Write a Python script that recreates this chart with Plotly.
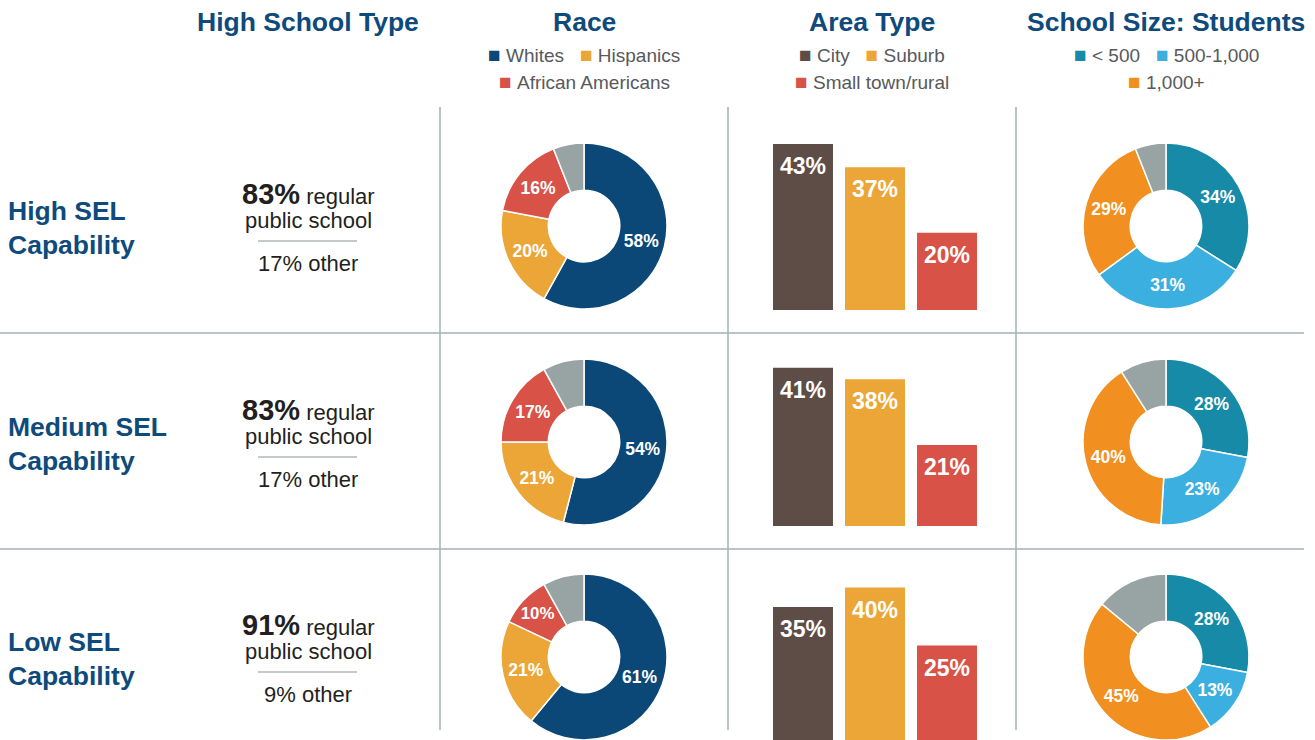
import plotly.graph_objects as go

W, H = 1315, 740

# ---- data ----
row_labels = ["High SEL<br>Capability", "Medium SEL<br>Capability", "Low SEL<br>Capability"]
regular_public = [83, 83, 91]
other_type = [17, 17, 9]

race_labels = ["Whites", "Hispanics", "African Americans", "Other"]
race_whites = [58, 54, 61]
race_hispanics = [20, 21, 21]
race_african_am = [16, 17, 10]
race_other = [6, 8, 8]

area_labels = ["City", "Suburb", "Small town/rural"]
area_city = [43, 41, 35]
area_suburb = [37, 38, 40]
area_rural = [20, 21, 25]

size_labels = ["< 500", "500-1,000", "1,000+", "Other"]
size_small = [34, 28, 28]
size_medium = [31, 23, 13]
size_large = [29, 40, 45]
size_other = [6, 9, 14]

# ---- styling ----
BLUE = "#0e4a7b"
DARK = "#231f20"
GREY_TXT = "#58595b"
RULE = "#a5b0b0"
race_colors = ["#0b4877", "#eca637", "#d85247", "#98a3a3"]
area_colors = ["#5d4d46", "#eca637", "#d85247"]
size_colors = ["#168aa7", "#3bb0e0", "#f19020", "#98a3a3"]
FONT = "Liberation Sans"

row_cy = [226, 442, 657]       # pixel centres of each row
bar_bottom = [310, 526, 742]   # pixel baseline of bars
px_per_pct = 3.86
radius = 83


def px_x(p):
    return p / W


def px_y(p):
    return 1 - p / H


fig = go.Figure()
annotations = []

for i in range(3):
    cy = row_cy[i]
    # race donut
    fig.add_trace(go.Pie(
        values=[race_whites[i], race_hispanics[i], race_african_am[i], race_other[i]],
        labels=race_labels,
        marker=dict(colors=race_colors, line=dict(color="white", width=1.5)),
        hole=0.43, sort=False, direction="clockwise", rotation=0,
        texttemplate=["%{value}%"] * 3 + [""],
        textposition="inside", insidetextorientation="horizontal",
        textfont=dict(family=FONT, size=17.5, color="white", weight="bold"),
        domain=dict(x=[px_x(584 - radius), px_x(584 + radius)],
                    y=[max(0, px_y(cy + radius)), px_y(cy - radius)]),
        showlegend=False, hoverinfo="label+value",
    ))
    # school size donut
    fig.add_trace(go.Pie(
        values=[size_small[i], size_medium[i], size_large[i], size_other[i]],
        labels=size_labels,
        marker=dict(colors=size_colors, line=dict(color="white", width=1.5)),
        hole=0.43, sort=False, direction="clockwise", rotation=0,
        texttemplate=["%{value}%"] * 3 + [""],
        textposition="inside", insidetextorientation="horizontal",
        textfont=dict(family=FONT, size=17.5, color="white", weight="bold"),
        domain=dict(x=[px_x(1166 - radius), px_x(1166 + radius)],
                    y=[max(0, px_y(cy + radius)), px_y(cy - radius)]),
        showlegend=False, hoverinfo="label+value",
    ))
    # area type bars
    n = "" if i == 0 else str(i + 1)
    vals = [area_city[i], area_suburb[i], area_rural[i]]
    fig.add_trace(go.Bar(
        x=area_labels, y=vals,
        marker=dict(color=area_colors, line=dict(width=0)),
        textposition="none",
        xaxis="x" + n, yaxis="y" + n, showlegend=False,
    ))
    for lab, v in zip(area_labels, vals):
        annotations.append(dict(
            x=lab, y=v, xref="x" + n, yref="y" + n, text="%d%%" % v,
            showarrow=False, yanchor="middle", yshift=-22,
            font=dict(family=FONT, size=23, color="white", weight="bold"),
        ))
    bottom = bar_bottom[i]
    ymin = max(0, (bottom - H) / px_per_pct)
    top = bottom - 50 * px_per_pct
    fig.layout["xaxis" + n] = dict(domain=[px_x(767), px_x(983)], range=[-0.5, 2.5],
                                   visible=False, anchor="y" + n, fixedrange=True)
    fig.layout["yaxis" + n] = dict(domain=[px_y(min(bottom, H)), px_y(top)], range=[ymin, 50],
                                   visible=False, anchor="x" + n, fixedrange=True)

# ---- separators ----
shapes = []
for x in [440, 728, 1016]:
    shapes.append(dict(type="line", xref="paper", yref="paper",
                       x0=px_x(x), x1=px_x(x), y0=px_y(107), y1=px_y(730),
                       line=dict(color=RULE, width=1.5)))
for y in [333, 549]:
    shapes.append(dict(type="line", xref="paper", yref="paper",
                       x0=0, x1=px_x(1304), y0=px_y(y), y1=px_y(y),
                       line=dict(color=RULE, width=1.5)))


def note(text, x, y, size, color, xanchor="center", bold=False):
    annotations.append(dict(
        text=text, x=px_x(x), y=px_y(y), xref="paper", yref="paper",
        xanchor=xanchor, yanchor="middle", showarrow=False,
        align="left" if xanchor == "left" else "center",
        font=dict(family=FONT, size=size, color=color, weight="bold" if bold else "normal"),
    ))


# column headers
for txt, x in [("High School Type", 308), ("Race", 584), ("Area Type", 872),
               ("School Size: Students", 1166)]:
    note(txt, x, 22, 26.5, BLUE, bold=True)


def item(c, label):
    return "<span style='color:%s;font-size:21px'>■</span>\u00a0%s" % (c, label)


gap = "\u00a0" * 3
LEG = 19
note(item(race_colors[0], race_labels[0]) + gap + item(race_colors[1], race_labels[1]),
     584, 54, LEG, GREY_TXT)
note(item(race_colors[2], race_labels[2]), 584, 81, LEG, GREY_TXT)
note(item(area_colors[0], area_labels[0]) + gap + item(area_colors[1], area_labels[1]),
     872, 54, LEG, GREY_TXT)
note(item(area_colors[2], area_labels[2]), 872, 81, LEG, GREY_TXT)
note(item(size_colors[0], size_labels[0]) + gap + item(size_colors[1], size_labels[1]),
     1166, 54, LEG, GREY_TXT)
note(item(size_colors[2], size_labels[2]), 1166, 81, LEG, GREY_TXT)

# row labels and high school type text
for i in range(3):
    cy = row_cy[i]
    note(row_labels[i], 6, cy + 2, 26.5, BLUE, xanchor="left", bold=True)
    note("<span style='font-size:29px'><b>%d%%</b></span> regular" % regular_public[i],
         308, cy - 32, 22, DARK)
    note("public school", 308, cy - 6, 22, DARK)
    note("%d%% other" % other_type[i], 308, cy + 37, 22, DARK)
    shapes.append(dict(type="line", xref="paper", yref="paper",
                       x0=px_x(258), x1=px_x(357), y0=px_y(cy + 15), y1=px_y(cy + 15),
                       line=dict(color="#8a9393", width=1)))

fig.update_layout(
    width=W, height=H,
    margin=dict(l=0, r=0, t=0, b=0),
    paper_bgcolor="white", plot_bgcolor="white",
    bargap=0.167,
    shapes=shapes, annotations=annotations,
    font=dict(family=FONT),
)

# the page's default body margin would push the figure 8px off the corner
fig.write_html("out.html", config={"displayModeBar": False},
               post_script="document.body.style.margin='0';")
